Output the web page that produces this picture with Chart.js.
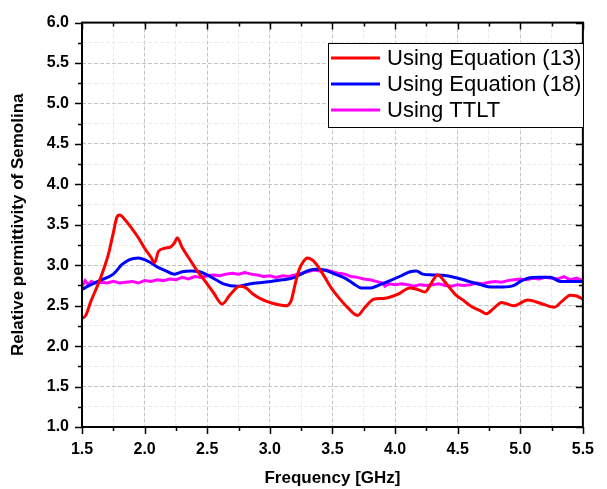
<!DOCTYPE html>
<html><head><meta charset="utf-8">
<script src="https://cdn.jsdelivr.net/npm/chart.js@4.4.0/dist/chart.umd.min.js"></script>
<style>html,body{margin:0;padding:0;background:#fff;}#wrap{width:607px;height:489px;}</style>
</head><body><div id="wrap"><canvas id="c" width="607" height="489"></canvas></div>
<script>
const seriesLabels = ['Using Equation (13)', 'Using Equation (18)', 'Using TTLT'];
const seriesColors = ['#ff0000', '#0000ff', '#ff00ff'];

const eq13Freq = [1.50,1.53,1.57,1.64,1.71,1.75,1.78,1.80,1.85,1.90,1.95,2.00,2.05,2.08,2.11,2.16,2.21,2.24,2.26,2.30,2.37,2.42,2.48,2.55,2.62,2.68,2.76,2.81,2.86,2.92,3.02,3.13,3.17,3.20,3.23,3.27,3.30,3.35,3.42,3.49,3.55,3.62,3.70,3.76,3.83,3.91,4.02,4.12,4.18,4.24,4.29,4.34,4.41,4.48,4.55,4.62,4.68,4.73,4.79,4.85,4.95,5.06,5.16,5.27,5.33,5.40,5.45,5.50];
const eq13Vals = [2.34,2.38,2.55,2.81,3.13,3.40,3.60,3.62,3.55,3.45,3.34,3.21,3.10,3.03,3.17,3.21,3.23,3.28,3.34,3.22,3.05,2.93,2.81,2.66,2.52,2.63,2.74,2.72,2.65,2.59,2.53,2.50,2.56,2.75,2.93,3.05,3.09,3.05,2.90,2.72,2.60,2.48,2.38,2.48,2.58,2.59,2.64,2.72,2.70,2.67,2.78,2.88,2.77,2.64,2.56,2.48,2.44,2.40,2.47,2.54,2.50,2.57,2.53,2.48,2.55,2.63,2.62,2.58];

const eq18Freq = [1.50,1.56,1.64,1.75,1.82,1.88,1.95,2.00,2.05,2.10,2.17,2.24,2.30,2.37,2.44,2.50,2.57,2.63,2.74,2.81,2.89,3.01,3.10,3.18,3.25,3.30,3.36,3.44,3.52,3.60,3.67,3.73,3.81,3.88,3.96,4.05,4.12,4.17,4.22,4.30,4.41,4.50,4.59,4.68,4.77,4.86,4.95,5.00,5.06,5.15,5.24,5.32,5.40,5.50];
const eq18Vals = [2.70,2.75,2.81,2.89,3.01,3.07,3.09,3.07,3.03,2.98,2.93,2.89,2.92,2.93,2.92,2.88,2.82,2.77,2.74,2.76,2.78,2.80,2.82,2.84,2.89,2.93,2.95,2.94,2.89,2.84,2.77,2.72,2.72,2.76,2.81,2.87,2.92,2.93,2.89,2.88,2.87,2.84,2.80,2.76,2.73,2.73,2.75,2.80,2.84,2.85,2.85,2.80,2.80,2.80];

const ttltFreq = [1.50,1.525,1.55,1.575,1.60,1.65,1.70,1.75,1.80,1.85,1.90,1.95,2.00,2.05,2.10,2.15,2.20,2.25,2.30,2.35,2.40,2.45,2.50,2.55,2.60,2.65,2.70,2.75,2.80,2.85,2.90,2.95,3.00,3.05,3.10,3.15,3.20,3.25,3.30,3.35,3.40,3.45,3.50,3.55,3.60,3.65,3.70,3.75,3.80,3.85,3.90,3.92,3.95,4.00,4.05,4.10,4.15,4.20,4.25,4.30,4.35,4.40,4.45,4.50,4.55,4.60,4.65,4.70,4.75,4.80,4.85,4.90,4.95,5.00,5.05,5.10,5.15,5.20,5.25,5.30,5.35,5.40,5.45,5.50];
const ttltVals = [2.74,2.81,2.76,2.80,2.78,2.79,2.78,2.80,2.78,2.79,2.80,2.78,2.81,2.80,2.82,2.81,2.83,2.82,2.85,2.83,2.86,2.85,2.87,2.88,2.87,2.89,2.90,2.89,2.91,2.89,2.88,2.86,2.87,2.85,2.87,2.86,2.88,2.90,2.92,2.94,2.93,2.94,2.92,2.90,2.89,2.86,2.85,2.83,2.82,2.80,2.78,2.74,2.77,2.76,2.77,2.76,2.74,2.76,2.75,2.76,2.77,2.75,2.74,2.76,2.75,2.76,2.78,2.77,2.79,2.80,2.79,2.81,2.82,2.83,2.82,2.84,2.83,2.85,2.84,2.83,2.86,2.82,2.84,2.81];

const xMin = 1.5, xMax = 5.5, yMin = 1.0, yMax = 6.0, minorStep = 0.25;

function pts(fs, vs){ return fs.map((f,i)=>({x:f,y:vs[i]})); }
const isMajor = v => Math.abs(v*2 - Math.round(v*2)) < 1e-6;

const framePlugin = {
  id:'frame',
  afterDraw(chart){
    const {ctx, chartArea:a, scales:{x, y}} = chart;
    ctx.save();
    ctx.strokeStyle = '#000';
    ctx.lineWidth = 1.5;
    ctx.beginPath();
    for(let v = xMin; v <= xMax + 1e-9; v += minorStep){
      const px = Math.round(x.getPixelForValue(v)) + 0.5;
      const L = isMajor(v) ? 7 : 4;
      ctx.moveTo(px, a.bottom); ctx.lineTo(px, a.bottom + L);
      ctx.moveTo(px, a.top); ctx.lineTo(px, a.top + L);
    }
    for(let v = yMin; v <= yMax + 1e-9; v += minorStep){
      const py = Math.round(y.getPixelForValue(v)) + 0.5;
      const L = isMajor(v) ? 7 : 4;
      ctx.moveTo(a.left, py); ctx.lineTo(a.left - L, py);
      ctx.moveTo(a.right, py); ctx.lineTo(a.right - L, py);
    }
    ctx.stroke();
    ctx.lineWidth = 2;
    ctx.strokeRect(a.left, a.top, a.right - a.left, a.bottom - a.top);
    // legend
    const bx = 328, by = 43, bw = 255, bh = 84;
    ctx.fillStyle = '#fff';
    ctx.fillRect(bx, by, bw, bh);
    ctx.lineWidth = 1;
    ctx.strokeStyle = '#000';
    ctx.strokeRect(bx + 0.5, by + 0.5, bw, bh);
    ctx.font = '22px "Liberation Sans", Arial, sans-serif';
    ctx.textBaseline = 'middle';
    ctx.textAlign = 'left';
    chart.data.datasets.forEach((ds, i) => {
      const cy = by + 15 + i * 26;
      ctx.strokeStyle = ds.borderColor;
      ctx.lineWidth = 3;
      ctx.beginPath(); ctx.moveTo(bx + 3, cy); ctx.lineTo(bx + 52, cy); ctx.stroke();
      ctx.fillStyle = '#000';
      ctx.fillText(ds.label, bx + 59, cy + 1);
    });
    ctx.restore();
  }
};

const tickFont = {family:'"Liberation Sans", Arial, sans-serif', size:16, weight:'bold'};
const xTitleFont = {family:'"Liberation Sans", Arial, sans-serif', size:17, weight:'bold'};
const yTitleFont = {family:'"Liberation Sans", Arial, sans-serif', size:17, weight:'bold'};

new Chart(document.getElementById('c'), {
  type:'line',
  data:{
    datasets:[
      {label:seriesLabels[0], data:pts(eq13Freq, eq13Vals), borderColor:seriesColors[0], borderWidth:3, pointRadius:0, tension:0.4, cubicInterpolationMode:'monotone'},
      {label:seriesLabels[1], data:pts(eq18Freq, eq18Vals), borderColor:seriesColors[1], borderWidth:3, pointRadius:0, tension:0.4, cubicInterpolationMode:'monotone'},
      {label:seriesLabels[2], data:pts(ttltFreq, ttltVals), borderColor:seriesColors[2], borderWidth:3, pointRadius:0, tension:0}
    ]
  },
  options:{
    responsive:false, animation:false,
    layout:{padding:{top:15, right:14, left:0, bottom:0}},
    plugins:{legend:{display:false}, tooltip:{enabled:false}},
    scales:{
      x:{type:'linear', min:xMin, max:xMax,
        afterFit: s => { s.height = 62; },
        ticks:{stepSize:minorStep, autoSkip:false, maxRotation:0, padding:13, color:'#000', font:tickFont,
          callback: v => isMajor(v) ? v.toFixed(1) : ''},
        grid:{drawTicks:false, color: c => isMajor(c.tick.value) ? '#c4c4c4' : '#ebebeb', lineWidth:1},
        border:{display:false, dash:[4,2]},
        title:{display:true, text:'Frequency [GHz]', color:'#000', font:xTitleFont, padding:{top:8,bottom:0}}
      },
      y:{type:'linear', min:yMin, max:yMax,
        afterFit: s => { s.width = 82; },
        ticks:{stepSize:minorStep, autoSkip:false, padding:13, color:'#000', font:tickFont,
          callback: v => isMajor(v) ? v.toFixed(1) : ''},
        grid:{drawTicks:false, color: c => isMajor(c.tick.value) ? '#c4c4c4' : '#ebebeb', lineWidth:1},
        border:{display:false, dash:[4,2]},
        title:{display:true, text:'Relative permittivity of Semolina', color:'#000', font:yTitleFont, padding:{top:8,bottom:0}}
      }
    }
  },
  plugins:[framePlugin]
});
</script></body></html>
